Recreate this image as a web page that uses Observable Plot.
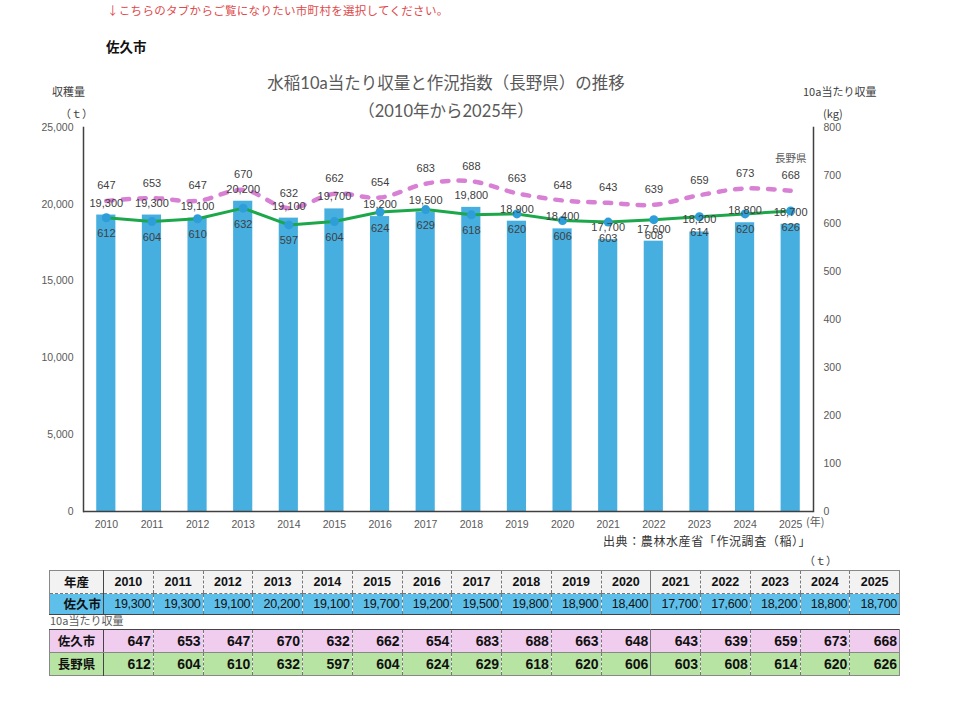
<!DOCTYPE html>
<html lang="ja">
<head>
<meta charset="utf-8">
<script src="https://cdn.jsdelivr.net/npm/d3@7"></script>
<script src="https://cdn.jsdelivr.net/npm/@observablehq/plot@0.6"></script>
<style>
  html, body { margin: 0; padding: 0; background: #fff; }
  body { width: 960px; height: 701px; position: relative; overflow: hidden;
         font-family: "Liberation Sans", "Noto Sans CJK JP", sans-serif; }
  .abs { position: absolute; white-space: nowrap; }
  #chart { position: absolute; left: 0; top: 0; }
  .note { left: 107px; top: 2px; font-size: 11.5px; color: #e0494b; font-family: "Noto Sans CJK JP", sans-serif; letter-spacing: 0.3px; }
  .city { left: 106px; top: 36px; font-size: 13.5px; font-weight: bold; color: #111; font-family: "Noto Sans CJK JP", sans-serif; }
  .title { left: 0; width: 892px; text-align: center; color: #595959; font-family: "Lato", "Noto Sans CJK JP", sans-serif; font-size: 16.5px; }
  .axlab { font-size: 11px; color: #404040; font-family: "Noto Sans CJK JP", sans-serif; }
  .src { font-size: 12px; color: #333; font-family: "Noto Sans CJK JP", sans-serif; letter-spacing: 0.6px; }
  table { border-collapse: collapse; position: absolute; table-layout: fixed; }
  td { padding: 0 2px; height: 20px; line-height: 20px; font-size: 12.5px; color: #111;
       border-left: 1px dashed #777; box-sizing: border-box; overflow: hidden; }
  td.lab { text-align: center; font-family: "Noto Sans CJK JP", sans-serif; font-weight: bold; border-left: none; border-right: 1.5px solid #444; font-size: 12.5px; }
  td.sep { border-left: 1px solid #777; }
  tr.head td { background: #f2f2f2; font-weight: bold; text-align: center; height: 22px; line-height: 22px; border-bottom: 1px dashed #777; font-size: 12.5px; }
  tr.harv td { background: #5ec0ea; text-align: right; font-size: 12.5px; letter-spacing: -0.3px; }
  tr.harv td.lab { font-size: 12.5px; letter-spacing: 0; }
  tr.saku td { background: #f0cdef; text-align: right; font-weight: bold; font-size: 14px; height: 22px; line-height: 22px; border-bottom: 1px solid #888; }
  tr.pref td { background: #b7e4a2; text-align: right; font-weight: bold; font-size: 14px; height: 22px; line-height: 22px; }
  tr.saku td.lab, tr.pref td.lab { text-align: center; font-size: 12.5px; }
  #t1 { border-top: 1px solid #888; border-bottom: 1.5px solid #444; border-left: 1px solid #888; border-right: 1px solid #888; }
  #t2 { border-top: 1.5px solid #444; border-bottom: 1px solid #888; border-left: 1px solid #888; border-right: 1px solid #888; }
</style>
</head>
<body>
<div id="chart"></div>
<div class="abs note">↓こちらのタブからご覧になりたい市町村を選択してください。</div>
<div class="abs city">佐久市</div>
<div class="abs title" style="top:70px">水稲10a当たり収量と作況指数（長野県）の推移</div>
<div class="abs title" style="top:98px">（2010年から2025年）</div>
<div class="abs axlab" style="left:52px; top:83px">収穫量</div>
<div class="abs axlab" style="left:60px; top:105px">（ｔ）</div>
<div class="abs axlab" style="left:803px; top:83px">10a当たり収量</div>
<div class="abs axlab" style="left:823px; top:105px">(kg)</div>
<div class="abs axlab" style="left:806px; top:513px; color:#595959">(年)</div>
<div class="abs src" style="left:603px; top:532px">出典：農林水産省「作況調査（稲）」</div>
<div class="abs axlab" style="left:804px; top:552px">（ｔ）</div>
<div class="abs axlab" style="left:50px; top:613px; line-height:14px; color:#595959">10a当たり収量</div>
<table id="t1" style="left:49px; top:570px; width:850px"></table>
<table id="t2" style="left:49px; top:629px; width:850px"></table>
<script>
// 年産
const years = [2010, 2011, 2012, 2013, 2014, 2015, 2016, 2017, 2018, 2019, 2020, 2021, 2022, 2023, 2024, 2025];
// 佐久市 収穫量 (t)
const harvest = [19300, 19300, 19100, 20200, 19100, 19700, 19200, 19500, 19800, 18900, 18400, 17700, 17600, 18200, 18800, 18700];
// 10a当たり収量 (kg) 佐久市
const yieldSaku = [647, 653, 647, 670, 632, 662, 654, 683, 688, 663, 648, 643, 639, 659, 673, 668];
// 10a当たり収量 (kg) 長野県
const yieldNagano = [612, 604, 610, 632, 597, 604, 624, 629, 618, 620, 606, 603, 608, 614, 620, 626];
// 軸目盛
const harvestTicks = [0, 5000, 10000, 15000, 20000, 25000];
const yieldTicks = [0, 100, 200, 300, 400, 500, 600, 700, 800];

const rows = years.map((y, i) => ({
  year: y, harvest: harvest[i], saku: yieldSaku[i], nagano: yieldNagano[i]
}));

// 右軸 (kg) を左軸 (t) の尺度に換算する係数
const K = 25000 / 800;
const fmt = d3.format(",");
const labelColor = "#404040";

const chart = Plot.plot({
  width: 960,
  height: 550,
  marginLeft: 83,
  marginRight: 147,
  marginTop: 127,
  marginBottom: 39,
  style: { fontFamily: "Liberation Sans, Noto Sans CJK JP, sans-serif", fontSize: "10.5px", color: "#595959", background: "transparent" },
  x: { type: "band", domain: years, paddingInner: 0.58, paddingOuter: 0.29, round: false, label: null },
  y: { domain: [0, 25000], label: null },
  marks: [
    Plot.barY(rows, { x: "year", y: "harvest", fill: "#47afe0" }),
    Plot.line(rows, { x: "year", y: d => d.saku * K, stroke: "#d880d4", strokeWidth: 4.5,
      strokeDasharray: "6.5,10", strokeLinecap: "round", curve: "catmull-rom" }),
    Plot.line(rows, { x: "year", y: d => d.nagano * K, stroke: "#1ca84a", strokeWidth: 3 }),
    Plot.dot(rows, { x: "year", y: d => d.nagano * K, r: 4.5, fill: "#2d9ed8" }),
    Plot.text(rows, { x: "year", y: "harvest", text: d => fmt(d.harvest), dy: -12, fill: labelColor, fontSize: 11 }),
    Plot.text(rows, { x: "year", y: d => d.saku * K, text: d => String(d.saku), dy: -15, fill: labelColor, fontSize: 11 }),
    Plot.text(rows, { x: "year", y: d => d.nagano * K, text: d => String(d.nagano), dy: 16, fill: labelColor, fontSize: 11 }),
    Plot.text(rows.slice(-1), { x: "year", y: d => d.saku * K, text: () => "長野県", dy: -32, fill: "#595959", fontSize: 10.5,
      fontFamily: "Noto Sans CJK JP, sans-serif" }),
    Plot.axisY(harvestTicks, { anchor: "left", tickSize: 0, tickPadding: 10, tickFormat: d => fmt(d), label: null }),
    Plot.axisY(yieldTicks.map(v => v * K), { anchor: "right", tickSize: 0, tickPadding: 10,
      tickFormat: d => String(Math.round(d / K)), label: null }),
    Plot.axisX({ tickSize: 0, tickPadding: 9, tickFormat: d => String(d), label: null }),
    Plot.ruleY([0], { stroke: "#404040", strokeWidth: 1.5 }),
    Plot.frame({ anchor: "left", stroke: "#404040", strokeWidth: 1.5 }),
    Plot.frame({ anchor: "right", stroke: "#404040", strokeWidth: 1.5 })
  ]
});
document.getElementById("chart").appendChild(chart);

// 下部の数値表
const colW = 49.75;
function colgroup() {
  return `<colgroup><col style="width:54px">${years.map(() => `<col style="width:${colW}px">`).join("")}</colgroup>`;
}
function cells(values, f) {
  return values.map((v, i) => `<td${years[i] === 2021 ? ' class="sep"' : ""}>${f(v)}</td>`).join("");
}
document.getElementById("t1").innerHTML = colgroup() +
  `<tr class="head"><td class="lab">年産</td>${cells(years, String)}</tr>` +
  `<tr class="harv"><td class="lab">佐久市</td>${cells(harvest, fmt)}</tr>`;
document.getElementById("t2").innerHTML = colgroup() +
  `<tr class="saku"><td class="lab">佐久市</td>${cells(yieldSaku, String)}</tr>` +
  `<tr class="pref"><td class="lab">長野県</td>${cells(yieldNagano, String)}</tr>`;
</script>
</body>
</html>
